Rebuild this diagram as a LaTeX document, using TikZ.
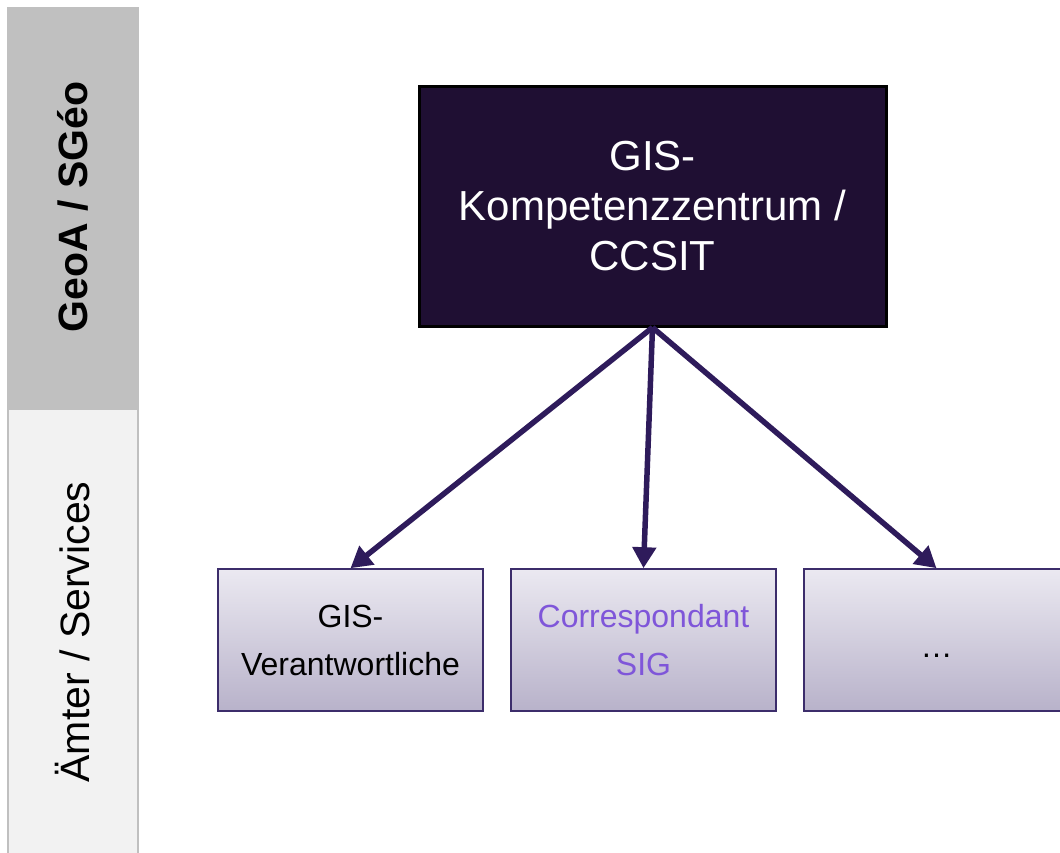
\documentclass[tikz,border=0pt]{standalone}
\usepackage{fontspec}
\setmainfont{Liberation Sans}
\usetikzlibrary{positioning,arrows.meta}
\definecolor{bandgrey}{HTML}{C0C0C0}
\definecolor{bandlight}{HTML}{F2F2F2}
\definecolor{ccfill}{HTML}{1F0F33}
\definecolor{linkcol}{HTML}{2E1B5B}
\definecolor{boxline}{HTML}{3C2D6B}
\definecolor{gradtop}{HTML}{EBE9F1}
\definecolor{gradbot}{HTML}{B8B2CA}
\definecolor{sigtext}{HTML}{7F56D9}

\begin{document}
\begin{tikzpicture}[x=1pt,y=-1pt,node distance=26.4pt,
		main node/.style={rectangle,draw=black,line width=3pt,fill=ccfill,text=white,minimum width=467pt,minimum height=240pt,align=center,font=\fontsize{42}{50}\selectfont},
		service node/.style={rectangle,draw=boxline,line width=1.6pt,top color=gradtop,bottom color=gradbot,minimum width=265pt,minimum height=142pt,align=center,font=\fontsize{32}{48}\selectfont},
		band label/.style={rotate=90,font=\fontsize{41}{50}\selectfont},
		link/.style={draw=linkcol,line width=5.5pt,-{Triangle[length=21pt,width=23pt]}}]
		
		\useasboundingbox (0,0) rectangle (1060,852);
		% left band
		\fill[bandgrey] (7,7) rectangle (139,410);
		\filldraw[fill=bandlight,draw=bandgrey,line width=2pt] (8,410) -- (8,860) -- (138,860) -- (138,410);
		\node[band label,font=\fontsize{41}{50}\selectfont\bfseries] (geoa) at (73,207) {GeoA / SGéo};
		\node[band label] (aemter) at (73,632) {Ämter / Services};
		
		\node[main node] (cc) at (652.5,206) {GIS-\\Kompetenzzentrum /\\CCSIT};
		\node[service node] (gis) at (350.5,640) {GIS-\\Verantwortliche};
		\node[service node,right=of gis,text=sigtext] (sig) {Correspondant\\SIG};
		\node[service node,right=of sig,text height=36pt,text depth=2pt] (more) {…};
		
		\path
		(cc.south) edge[link] (gis.north)
		(cc.south) edge[link] (sig.north)
		(cc.south) edge[link] (more.north);
\end{tikzpicture}
\end{document}
